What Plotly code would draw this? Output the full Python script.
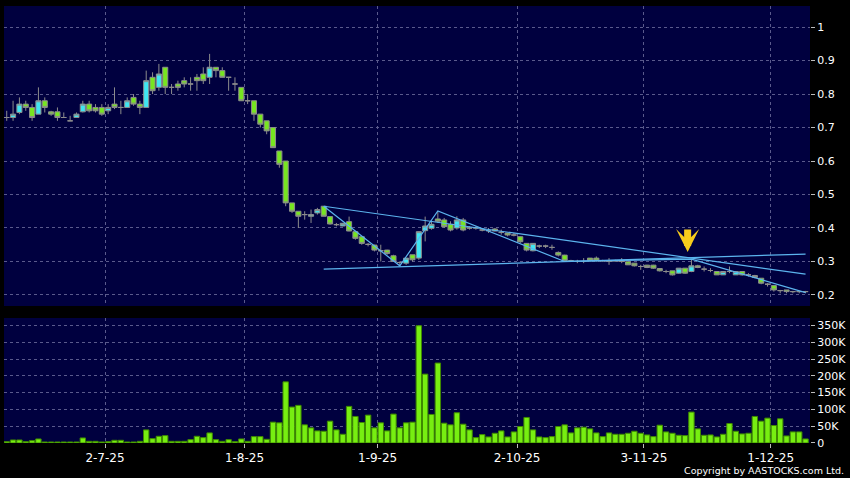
import pandas as pd
import plotly.graph_objects as go
from plotly.subplots import make_subplots

# ---- data ----
holidays = ["2025-07-01", "2025-10-01", "2025-10-07", "2025-10-29"]
dates = [d.strftime("%Y-%m-%d") for d in pd.bdate_range("2025-06-09", "2025-12-08")
         if d.strftime("%Y-%m-%d") not in holidays]

open_ = [0.73,0.73,0.745,0.77,0.76,0.74,0.78,0.747,0.747,0.73,0.72,0.73,0.747,0.77,0.76,0.76,0.75,0.77,0.76,0.76,
         0.79,0.77,0.76,0.85,0.82,0.88,0.82,0.83,0.84,0.83,0.85,0.86,0.85,0.88,0.87,0.85,0.83,0.82,0.78,0.78,
         0.74,0.72,0.70,0.63,0.60,0.475,0.45,0.44,0.435,0.445,0.465,0.434,0.41,0.406,0.419,0.389,0.374,0.351,0.349,0.332,
         0.334,0.317,0.297,0.295,0.32,0.31,0.392,0.399,0.427,0.424,0.411,0.40,0.424,0.40,0.40,0.394,0.392,0.397,0.387,0.385,
         0.379,0.374,0.354,0.332,0.346,0.346,0.342,0.327,0.319,0.302,0.30,0.30,0.31,0.31,0.302,0.30,0.302,0.30,0.299,0.295,
         0.285,0.289,0.289,0.279,0.27,0.272,0.265,0.28,0.27,0.287,0.277,0.273,0.27,0.26,0.27,0.26,0.27,0.26,0.258,0.25,
         0.232,0.228,0.213,0.215,0.21,0.21,0.21]
high = [0.75,0.78,0.79,0.78,0.77,0.82,0.79,0.75,0.76,0.745,0.735,0.745,0.78,0.78,0.77,0.77,0.77,0.82,0.78,0.79,
        0.80,0.78,0.87,0.865,0.89,0.88,0.83,0.84,0.85,0.85,0.86,0.88,0.92,0.88,0.88,0.85,0.85,0.82,0.80,0.78,
        0.74,0.72,0.70,0.63,0.60,0.475,0.45,0.45,0.455,0.46,0.465,0.434,0.415,0.415,0.434,0.39,0.375,0.355,0.35,0.35,
        0.335,0.32,0.30,0.31,0.32,0.39,0.434,0.42,0.45,0.43,0.42,0.435,0.43,0.405,0.405,0.40,0.40,0.40,0.395,0.385,
        0.385,0.375,0.355,0.355,0.35,0.35,0.35,0.33,0.32,0.305,0.305,0.31,0.31,0.315,0.305,0.31,0.305,0.31,0.30,0.295,
        0.29,0.29,0.29,0.28,0.275,0.272,0.28,0.28,0.307,0.29,0.285,0.28,0.27,0.27,0.285,0.27,0.27,0.265,0.26,0.25,
        0.235,0.23,0.215,0.215,0.212,0.212,0.212]
low = [0.72,0.72,0.74,0.75,0.72,0.74,0.745,0.735,0.72,0.73,0.72,0.73,0.745,0.745,0.745,0.735,0.74,0.755,0.74,0.76,
       0.765,0.74,0.76,0.80,0.81,0.80,0.80,0.81,0.82,0.81,0.81,0.83,0.83,0.85,0.85,0.81,0.81,0.78,0.77,0.72,
       0.70,0.68,0.64,0.58,0.465,0.445,0.40,0.425,0.415,0.44,0.435,0.41,0.405,0.405,0.39,0.365,0.35,0.345,0.33,0.30,
       0.32,0.30,0.287,0.29,0.30,0.305,0.36,0.395,0.415,0.40,0.39,0.395,0.39,0.395,0.395,0.39,0.385,0.39,0.38,0.375,
       0.375,0.355,0.33,0.33,0.34,0.34,0.335,0.315,0.30,0.30,0.295,0.295,0.30,0.30,0.30,0.29,0.30,0.295,0.29,0.285,
       0.275,0.28,0.278,0.27,0.265,0.258,0.263,0.263,0.268,0.28,0.27,0.268,0.26,0.26,0.265,0.26,0.258,0.255,0.25,0.232,
       0.225,0.21,0.205,0.205,0.205,0.205,0.205]
close = [0.73,0.74,0.77,0.76,0.73,0.78,0.76,0.74,0.73,0.73,0.72,0.74,0.77,0.75,0.75,0.74,0.76,0.76,0.76,0.78,
         0.77,0.76,0.84,0.81,0.86,0.82,0.82,0.82,0.83,0.83,0.84,0.84,0.88,0.87,0.85,0.85,0.83,0.78,0.78,0.74,
         0.71,0.69,0.64,0.59,0.475,0.45,0.435,0.44,0.44,0.455,0.435,0.412,0.41,0.414,0.391,0.369,0.354,0.351,0.334,0.332,
         0.324,0.30,0.297,0.31,0.305,0.389,0.406,0.411,0.42,0.404,0.394,0.424,0.394,0.40,0.40,0.394,0.392,0.391,0.387,0.379,
         0.379,0.359,0.334,0.354,0.346,0.346,0.342,0.319,0.302,0.302,0.30,0.30,0.302,0.302,0.302,0.30,0.302,0.30,0.29,0.287,
         0.285,0.282,0.28,0.272,0.27,0.26,0.28,0.265,0.287,0.282,0.277,0.273,0.26,0.27,0.27,0.27,0.26,0.26,0.252,0.235,
         0.232,0.215,0.213,0.21,0.21,0.21,0.21]
volume_k = [4,9,9,4,7,12,3,3,3,3,3,3,15,5,5,3,4,8,8,3,
            3,5,39,13,20,22,5,5,5,10,20,16,30,10,5,10,4,12,5,19,
            19,11,62,60,182,107,112,54,45,36,35,65,39,26,109,79,61,83,45,60,
            36,86,45,60,62,349,205,85,238,59,54,90,56,39,16,25,18,29,36,18,
            33,49,76,39,18,16,19,49,54,30,45,47,42,30,19,30,26,26,29,35,
            29,24,19,53,33,29,23,22,92,42,23,24,18,26,58,35,27,29,79,65,
            74,52,72,21,33,33,12]
volume = [v * 1000 for v in volume_k]

tick_dates = ["2025-07-02", "2025-08-01", "2025-09-01", "2025-10-02", "2025-11-03", "2025-12-01"]
tick_labels = ["2-7-25", "1-8-25", "1-9-25", "2-10-25", "3-11-25", "1-12-25"]
price_ticks = [0.2, 0.3, 0.4, 0.5, 0.6, 0.7, 0.8, 0.9, 1.0]
price_tick_labels = ["0.2", "0.3", "0.4", "0.5", "0.6", "0.7", "0.8", "0.9", "1"]
vol_ticks = [0, 50000, 100000, 150000, 200000, 250000, 300000, 350000]
vol_tick_labels = ["0", "50K", "100K", "150K", "200K", "250K", "300K", "350K"]

# trend lines: (date, price) pairs
upper_line = [("2025-08-19", 0.465), ("2025-12-08", 0.262)]
support_line = [("2025-08-19", 0.277), ("2025-12-08", 0.322)]
zigzag = [("2025-08-19", 0.465), ("2025-09-04", 0.287), ("2025-09-12", 0.451),
          ("2025-10-14", 0.30), ("2025-11-12", 0.307), ("2025-12-08", 0.207)]
arrow_date, arrow_tip, arrow_tail = "2025-11-12", 0.328, 0.40

# ---- figure ----
idx = {d: i for i, d in enumerate(dates)}
xs = list(range(len(dates)))

fig = make_subplots(rows=2, cols=1, shared_xaxes=True, vertical_spacing=0.0,
                    row_heights=[0.7, 0.3])

fig.add_trace(go.Candlestick(
    x=xs, open=open_, high=high, low=low, close=close,
    increasing=dict(line=dict(color="#8c8c8c", width=1), fillcolor="#3fe6f2"),
    decreasing=dict(line=dict(color="#8c8c8c", width=1), fillcolor="#77e620"),
    whiskerwidth=0, showlegend=False), row=1, col=1)

line_style = dict(color="#5cb4ee", width=1.2)
for pts in (upper_line, support_line, zigzag):
    fig.add_trace(go.Scatter(x=[idx[d] for d, _ in pts], y=[p for _, p in pts],
                             mode="lines", line=line_style, showlegend=False,
                             hoverinfo="skip"), row=1, col=1)

fig.add_trace(go.Bar(x=xs, y=volume, width=0.85,
                     marker=dict(color="#77ee11", line=dict(color="#3f8a00", width=1)),
                     showlegend=False), row=2, col=1)

fig.add_annotation(x=idx[arrow_date] - 0.6, y=arrow_tip, ax=idx[arrow_date] - 0.6, ay=arrow_tail,
                   xref="x", yref="y", axref="x", ayref="y", text="", showarrow=True,
                   arrowhead=3, arrowsize=0.55, arrowwidth=7, arrowcolor="#f7cc1c", standoff=0)

fig.add_annotation(text="Copyright by AASTOCKS.com Ltd.", xref="paper", yref="paper",
                   x=1.045, y=-0.062, xanchor="right", yanchor="middle", showarrow=False,
                   font=dict(family="DejaVu Sans", size=9.5, color="#ffffff"))

grid = dict(showgrid=True, gridcolor="#5a5a8c", griddash="3px,3px", gridwidth=1, zeroline=False)
tickvals_x = [idx[d] - 0.5 for d in tick_dates]
for r in (1, 2):
    fig.update_xaxes(range=[-0.43, len(dates) - 0.3], tickvals=tickvals_x, ticktext=tick_labels,
                     showline=False, rangeslider_visible=False, row=r, col=1, **grid)
fig.update_xaxes(showticklabels=False, ticks="", row=1, col=1)
fig.update_xaxes(showticklabels=True, ticks="outside", ticklen=4, tickcolor="#bbbbbb",
                 tickfont=dict(family="DejaVu Sans", size=12, color="#ffffff"), row=2, col=1)

fig.update_yaxes(range=[0.167, 1.063], tickvals=price_ticks, ticktext=price_tick_labels, side="right",
                 ticks="outside", ticklen=4, tickcolor="#bbbbbb",
                 tickfont=dict(family="DejaVu Sans", size=11, color="#ffffff"), row=1, col=1, **grid)
fig.update_yaxes(range=[0, 372000], tickvals=vol_ticks, ticktext=vol_tick_labels, side="right",
                 ticks="outside", ticklen=4, tickcolor="#bbbbbb",
                 tickfont=dict(family="DejaVu Sans", size=11, color="#ffffff"), row=2, col=1, **grid)

fig.update_layout(
    width=850, height=478,
    margin=dict(l=4, r=40, t=6, b=35, autoexpand=False),
    paper_bgcolor="#000000", plot_bgcolor="#00003f",
    showlegend=False, hovermode=False, bargap=0.15, boxgap=0.2, boxgroupgap=0,
)
fig.update_yaxes(domain=[0.3135, 1.0], row=1, col=1)
fig.update_yaxes(domain=[0.0, 0.286], row=2, col=1)

fig.write_html("out.html", config={"displayModeBar": False},
               post_script="document.body.style.margin='0';document.body.style.background='#000';")
